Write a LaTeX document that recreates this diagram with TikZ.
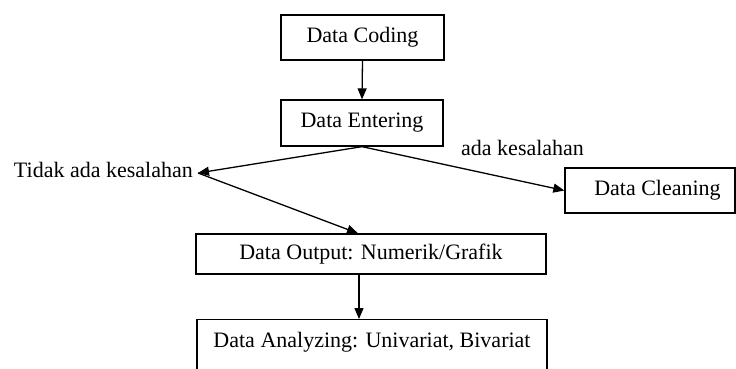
\documentclass[tikz,border=0pt]{standalone}
\usepackage{fontspec}
\setmainfont{Liberation Serif}
\usetikzlibrary{arrows.meta,calc}

\tikzset{
  box/.style={draw, line width=1.3pt, inner sep=0pt, font=\fontsize{22}{24}\selectfont},
  lbl/.style={inner sep=0pt, font=\fontsize{22}{24}\selectfont},
  arr/.style={line width=1.3pt, -{Triangle[length=11pt,width=9pt]}},
  link/.style={line width=1.3pt}
}

\begin{document}
\begin{tikzpicture}[x=1pt, y=-1pt]
  \useasboundingbox[fill=white] (0,0) rectangle (736,368);
  \clip (0,0) rectangle (736,368);

  % process boxes
  \node[box, minimum width=163pt, minimum height=45pt] (coding) at (362.5,37.5) {Data Coding};
  \node[box, minimum width=162pt, minimum height=46pt] (entering) at (362,123) {Data Entering};
  \node[box, minimum width=170pt, minimum height=45pt] (cleaning) at (650,190.5) {\hspace*{15pt}Data Cleaning};
  \node[box, minimum width=350pt, minimum height=40pt] (output) at (371,254) {Data Output: Numerik/Grafik};
  \node[box, minimum width=350pt, text height=22pt, text depth=38pt, inner ysep=6pt, anchor=north]
    (analyzing) at (372,319) {Data Analyzing: Univariat, Bivariat};

  % branch labels
  \node[lbl, anchor=base east] (tidak) at (193,177) {Tidak ada kesalahan};
  \node[lbl, anchor=base west] (ada) at (461,155) {ada kesalahan};
  \coordinate (tip) at (198,173);

  % connectors
  \draw[arr] (coding.south) -- (entering.north);
  \draw[arr] (entering.south) -- (tip);
  \draw[arr] (entering.south) -- (cleaning.west);
  \draw[arr] (tip) -- ([xshift=-13pt]output.north);
  \draw[arr] ([xshift=-12pt]output.south) -- ([xshift=-13pt]analyzing.north);
\end{tikzpicture}
\end{document}
